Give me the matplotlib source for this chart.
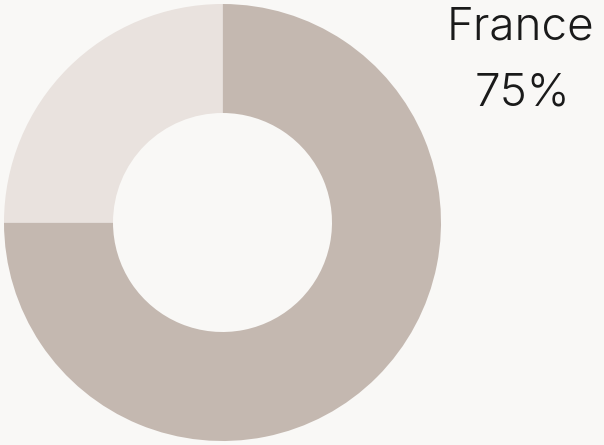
import matplotlib.pyplot as plt

# data
labels = ['France', 'Other']
values = [75, 25]
colors = ['#c4b8b0', '#e9e2de']
title_label = 'France'
title_value = '75%'

bg = '#f9f8f6'
W, H = 604, 445

fig = plt.figure(figsize=(W / 100, H / 100), dpi=100, facecolor=bg)
ax = fig.add_axes([0, 0, 445 / W, 1])
ax.set_facecolor(bg)
ax.pie(values, colors=colors, startangle=90, counterclock=False,
       radius=218.5 / 222.5,
       wedgeprops=dict(width=109 / 222.5, linewidth=0))
ax.set_xlim(-1, 1)
ax.set_ylim(-1, 1)
ax.set_aspect('equal')
ax.axis('off')

font = dict(family=['Inter', 'DejaVu Sans'], weight=300, color='#1a1a1a',
            fontsize=33, ha='center', va='baseline')
fig.text(520 / W, 1 - 40 / H, title_label, **font)
fig.text(522 / W, 1 - 105 / H, title_value, **font)

fig.savefig('out.png', dpi=100, facecolor=bg)
